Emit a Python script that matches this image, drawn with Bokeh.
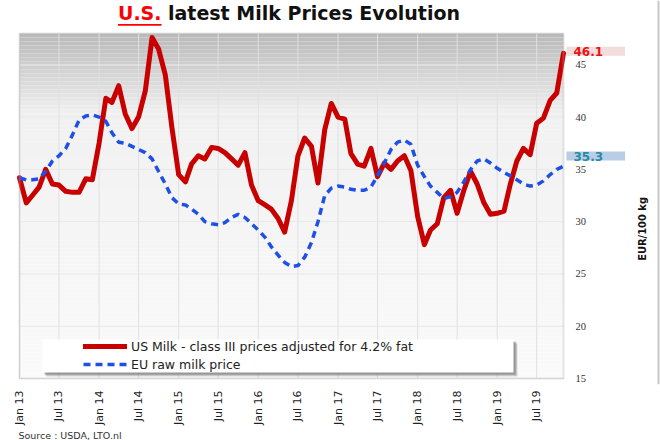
from math import pi

import pandas as pd
from bokeh.embed import file_html
from bokeh.models import (BoxAnnotation, ColumnDataSource, DatetimeTickFormatter,
                          FixedTicker, Label, Legend, LegendItem, Range1d, Title)
from bokeh.plotting import figure
from bokeh.resources import INLINE

# Monthly prices, EUR per 100 kg, Jan 2013 .. Nov 2019
months = pd.date_range("2013-01-01", "2019-11-01", freq="MS")

us_milk = [
    34.2, 31.8, 32.5, 33.3, 35.0, 33.6, 33.5, 32.9, 32.8, 32.8, 34.1, 34.0,   # 2013
    37.5, 41.8, 41.4, 43.0, 40.3, 38.9, 40.0, 42.5, 47.6, 46.5, 44.0, 39.0,   # 2014
    34.5, 33.8, 35.5, 36.3, 36.0, 37.1, 37.0, 36.6, 36.0, 35.4, 36.6, 33.5,   # 2015
    32.0, 31.6, 31.2, 30.3, 29.0, 32.0, 36.3, 38.0, 37.2, 33.7, 38.8, 41.3,   # 2016
    40.0, 39.8, 36.5, 35.5, 35.3, 37.0, 34.3, 35.6, 35.0, 35.8, 36.3, 34.9,   # 2017
    30.5, 27.8, 29.2, 29.8, 32.3, 33.0, 30.8, 33.0, 34.8, 33.6, 31.8, 30.7,   # 2018
    30.8, 31.0, 33.5, 35.8, 37.0, 36.4, 39.4, 39.9, 41.6, 42.3, 46.1,         # 2019
]

eu_milk = [
    34.2, 34.0, 34.0, 34.1, 34.8, 35.8, 36.3, 37.0, 38.3, 39.7, 40.1, 40.2,   # 2013
    40.0, 39.6, 38.5, 37.6, 37.5, 37.2, 36.9, 36.6, 36.0, 34.8, 33.6, 32.3,   # 2014
    31.7, 31.6, 31.2, 30.7, 30.0, 29.8, 29.7, 29.9, 30.4, 30.7, 30.4, 29.8,   # 2015
    29.2, 28.5, 27.6, 26.8, 26.1, 25.7, 25.8, 26.6, 28.0, 30.0, 32.5, 33.2,   # 2016
    33.4, 33.3, 33.1, 33.0, 33.0, 33.3, 34.4, 35.6, 36.9, 37.6, 37.8, 37.4,   # 2017
    35.4, 34.3, 33.4, 32.8, 32.2, 32.4, 32.8, 33.8, 35.0, 35.8, 36.0, 35.6,   # 2018
    35.1, 34.7, 34.4, 34.0, 33.6, 33.4, 33.5, 33.9, 34.5, 35.0, 35.3,         # 2019
]

tick_dates = pd.date_range("2013-01-01", "2019-07-01", freq="6MS")
price_ticks = [15, 20, 25, 30, 35, 40, 45]

series_names = ["US Milk - class III prices adjusted for 4.2% fat", "EU raw milk price"]

RED = "#c80000"
BLUE = "#1f50e6"
FONT = "DejaVu Sans"


def ms(ts):
    return ts.timestamp() * 1000.0


# data extent of the plotting area
X0, X1 = ms(months[0]), ms(months[-1])
Y0, Y1 = 15, 48

# canvas layout (pixels): the plotting area sits inside a larger drawing frame
W, H = 660, 440
FL, FR, FT, FB = 19, 563, 33, 379      # plotting area
FRAME_B = 385                           # bottom of the drawing frame (date axis starts here)


def at_x(px):
    """canvas pixel column -> x data value"""
    return X0 + (px - FL) / (FR - FL) * (X1 - X0)


def at_y(py):
    """canvas pixel row -> y data value"""
    return Y0 + (FB - py) / (FB - FT) * (Y1 - Y0)


src = ColumnDataSource(dict(date=months, us=us_milk, eu=eu_milk))

p = figure(width=W, height=H, output_backend="svg", toolbar_location=None,
           x_axis_type="datetime", y_axis_location=None,
           x_range=Range1d(at_x(0), at_x(W)), y_range=Range1d(at_y(FRAME_B), at_y(0)),
           min_border_left=0, min_border_right=0, min_border_top=0,
           min_border_bottom=H - FRAME_B)
p.title.visible = False
p.background_fill_color = "white"
p.border_fill_color = "white"
p.outline_line_color = None
p.xgrid.visible = False
p.ygrid.visible = False

# plotting area: soft grey fade towards the top
top_shade = 186
for i in range(0, FB - FT, 4):
    py = FT + i
    if py < 112:
        g = top_shade + (241 - top_shade) * (py - FT) / (112 - FT)
    else:
        g = 241 + (250 - 241) * (py - 112) / (FB - 112)
    g = int(round(g))
    p.add_layout(BoxAnnotation(left=X0, right=X1, top=at_y(py), bottom=at_y(min(py + 4, FB)),
                               fill_color=(g, g, g), fill_alpha=1.0,
                               line_alpha=0, level="image"))

# grid lines at the tick positions
tick_ms = [ms(t) for t in tick_dates]
p.segment(x0=tick_ms, y0=[Y0] * len(tick_ms), x1=tick_ms, y1=[Y1] * len(tick_ms),
          line_color="#e0e0e0", line_width=1, level="underlay")
p.segment(x0=[X0] * len(price_ticks), y0=price_ticks, x1=[X1] * len(price_ticks),
          y1=price_ticks, line_color="#e8e8e8", line_width=1, level="underlay")

# x axis
xa = p.xaxis[0]
xa.ticker = FixedTicker(ticks=tick_ms)
xa.formatter = DatetimeTickFormatter(days="%b %y", months="%b %y", years="%b %y")
xa.major_label_orientation = pi / 2
xa.major_label_text_font = FONT
xa.major_label_text_font_size = "11px"
xa.major_label_text_color = "#222222"
xa.major_label_standoff = 0
xa.axis_line_color = None
xa.major_tick_line_color = None
xa.minor_tick_line_color = None

# price scale on the right of the plotting area
p.text(x=[at_x(575)] * len(price_ticks), y=price_ticks, text=[str(t) for t in price_ticks],
       text_font=FONT, text_font_size="10.5px", text_color="#333333",
       text_align="left", text_baseline="middle")

# price lines
r_us = p.line("date", "us", source=src, line_color=RED, line_width=5,
              line_join="round", line_cap="round")
r_eu = p.line("date", "eu", source=src, line_color=BLUE, line_width=3.5,
              line_dash="7 5")

# plotting-area border
p.add_layout(BoxAnnotation(left=X0, right=X1, top=Y1, bottom=Y0, fill_alpha=0,
                           line_color="#ababab", line_width=2))

# legend panel with a drop shadow
for dx, col, a in [(4, "#9a9a9a", 0.35), (3, "#8a8a8a", 0.45), (2, "#7a7a7a", 0.5)]:
    p.add_layout(BoxAnnotation(left=at_x(42 + dx), right=at_x(513 + dx),
                               top=at_y(340 + dx), bottom=at_y(373 + dx),
                               fill_color=col, fill_alpha=a, line_alpha=0))
p.add_layout(BoxAnnotation(left=at_x(42), right=at_x(513), top=at_y(340), bottom=at_y(373),
                           fill_color="white", fill_alpha=1.0, line_alpha=0))

legend = Legend(items=[LegendItem(label=series_names[0], renderers=[r_us]),
                       LegendItem(label=series_names[1], renderers=[r_eu])],
                location=(83, FRAME_B - FB + 6), padding=0, margin=0, spacing=2,
                glyph_width=44, glyph_height=16, label_height=16, label_standoff=4,
                label_text_font=FONT, label_text_font_size="12.5px",
                label_text_color="#222222",
                background_fill_alpha=0, border_line_alpha=0)
p.add_layout(legend, "center")

# latest-value badges on the price scale
for val, fg, bg, py in [(us_milk[-1], "#ee1111", "#f3dcdc", 51), (eu_milk[-1], "#2a8aa6", "#b9cde5", 156)]:
    p.add_layout(Label(x=at_x(566), y=at_y(py), text=f"{val:.1f}",
                       text_font=FONT, text_font_style="bold", text_font_size="12px",
                       text_color=fg, text_align="left", text_baseline="middle",
                       background_fill_color=bg, background_fill_alpha=1.0,
                       padding=dict(left=7, right=22, top=0, bottom=0)))

# axis title
p.add_layout(Label(x=at_x(642), y=at_y(229), text="EUR/100 kg", angle=pi / 2,
                   text_font="DejaVu Sans Condensed", text_font_style="bold",
                   text_font_size="11px", text_color="#111111",
                   text_align="center", text_baseline="middle"))

# heading: red underlined country tag followed by the rest in black
HX = 161
HY = 13
p.add_layout(Label(x=at_x(HX), y=at_y(HY), text="U.S.", text_font=FONT,
                   text_font_style="bold", text_font_size="19px", text_color="#ff0000",
                   text_align="right", text_baseline="middle"))
p.add_layout(Label(x=at_x(HX + 6.5), y=at_y(HY), text="latest Milk Prices Evolution",
                   text_font=FONT, text_font_style="bold", text_font_size="19px",
                   text_color="#111111", text_align="left", text_baseline="middle"))
p.add_layout(BoxAnnotation(left=at_x(HX - 43.5), right=at_x(HX), top=at_y(23.5), bottom=at_y(25.2),
                           fill_color="#ff0000", fill_alpha=1.0, line_alpha=0))

# thin rule down the right edge
p.add_layout(BoxAnnotation(left=at_x(657), right=at_x(659), top=at_y(0), bottom=at_y(FRAME_B),
                           fill_color="#c8c8c8", fill_alpha=1.0, line_alpha=0))

# source note under the date axis
p.add_layout(Title(text="Source : USDA, LTO.nl", align="left", offset=18, standoff=0,
                   text_font=FONT, text_font_size="9.5px", text_font_style="normal",
                   text_color="#333333"), "below")

open("out.html", "w").write(file_html(p, INLINE))
